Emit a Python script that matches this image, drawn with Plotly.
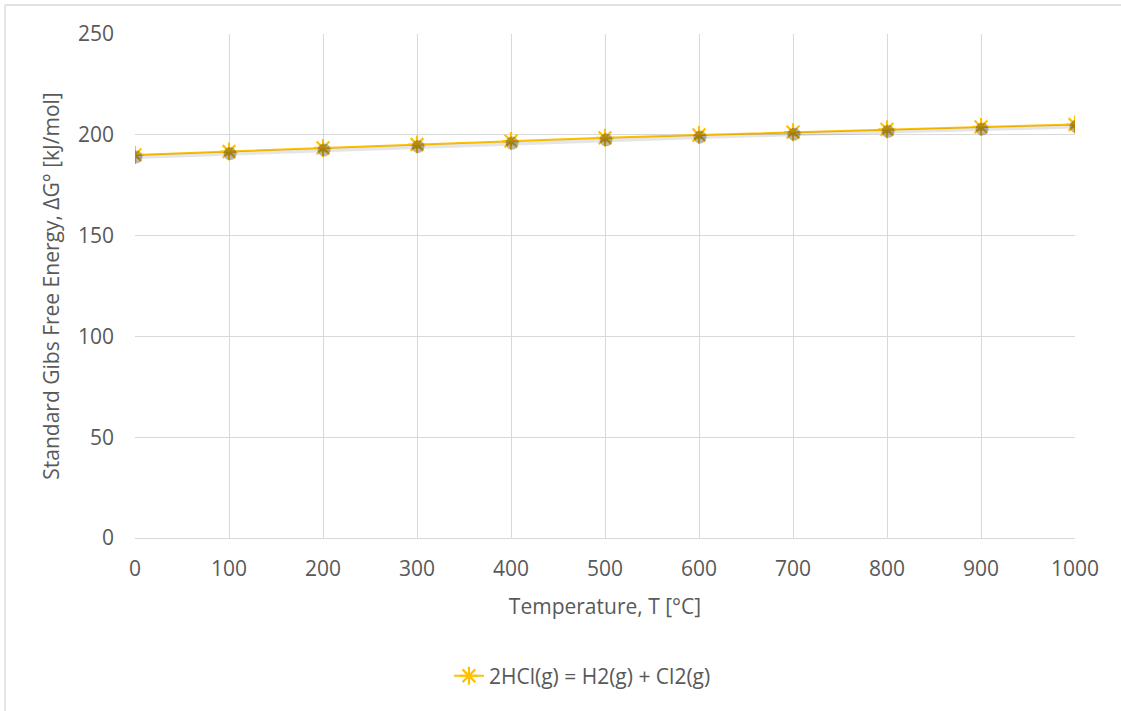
import plotly.graph_objects as go

temperature = [0, 100, 200, 300, 400, 500, 600, 700, 800, 900, 1000]
delta_g = [190.0, 191.7, 193.5, 195.2, 196.9, 198.5, 199.9, 201.3, 202.7, 203.9, 205.1]
series_name = "2HCl(g) = H2(g) + Cl2(g)"
x_ticks = [0, 100, 200, 300, 400, 500, 600, 700, 800, 900, 1000]
y_ticks = [0, 50, 100, 150, 200, 250]

W, H = 1121, 711
L, R, T, B = 135, 1075, 34, 538
pw, ph = R - L, B - T

FONT = "Open Sans"
TXT = "#595959"
GOLD = "#FFC000"

fig = go.Figure()

# soft shadow (same data, on slightly shifted overlay axes)
dx_px, dy_px = 1, 2
xr = [0 - dx_px * 1000 / pw, 1000 - dx_px * 1000 / pw]
yr = [0 + dy_px * 250 / ph, 250 + dy_px * 250 / ph]
fig.add_trace(go.Scatter(
    x=temperature, y=delta_g, xaxis="x2", yaxis="y2", mode="lines+markers",
    line=dict(color="rgba(0,0,0,0.10)", width=4),
    marker=dict(symbol="circle", size=13, color="rgba(30,30,30,0.32)",
                line=dict(width=0)),
    showlegend=False, hoverinfo="skip"))

fig.add_trace(go.Scatter(
    x=temperature, y=delta_g, mode="lines+markers", name=series_name,
    line=dict(color=GOLD, width=2),
    marker=dict(symbol="asterisk-open", size=15, color=GOLD,
                line=dict(color=GOLD, width=2.2))))

fig.update_layout(
    width=W, height=H,
    margin=dict(l=L, r=W - R, t=T, b=H - B, autoexpand=False),
    paper_bgcolor="white", plot_bgcolor="white",
    font=dict(family=FONT, size=20, color=TXT),
    xaxis=dict(range=[0, 1000], tickvals=x_ticks, showgrid=True, gridcolor="#D9D9D9",
               gridwidth=1.3, zeroline=False, showline=True, linecolor="#D9D9D9",
               ticks="", ticklabelstandoff=12, tickfont=dict(size=21),
               title=dict(text="Temperature, T [°C]", standoff=18,
                          font=dict(size=21, color=TXT))),
    yaxis=dict(range=[0, 250], tickvals=y_ticks, showgrid=True, gridcolor="#D9D9D9",
               gridwidth=1.3, zeroline=False, showline=False, ticks="",
               ticklabelstandoff=20, tickfont=dict(size=21),
               title=dict(text="Standard Gibs Free Energy, ΔG° [kJ/mol]", standoff=12,
                          font=dict(size=21, color=TXT))),
    xaxis2=dict(range=xr, overlaying="x", visible=False, fixedrange=True),
    yaxis2=dict(range=yr, overlaying="y", visible=False, fixedrange=True),
    legend=dict(orientation="h", x=0.476, xanchor="center", y=-0.274, yanchor="middle",
                font=dict(size=21, color=TXT), bgcolor="rgba(0,0,0,0)"),
    showlegend=True,
    shapes=[
        dict(type="line", xref="paper", yref="paper",
             x0=(5 - L) / pw, x1=(W + 20 - L) / pw, y0=(B - 5) / ph, y1=(B - 5) / ph,
             line=dict(color="#D9D9D9", width=1.3)),
        dict(type="line", xref="paper", yref="paper",
             x0=(5 - L) / pw, x1=(5 - L) / pw, y0=(B - 5) / ph, y1=(B - H - 20) / ph,
             line=dict(color="#D9D9D9", width=1.3)),
    ],
)

fig.write_html("out.html")
